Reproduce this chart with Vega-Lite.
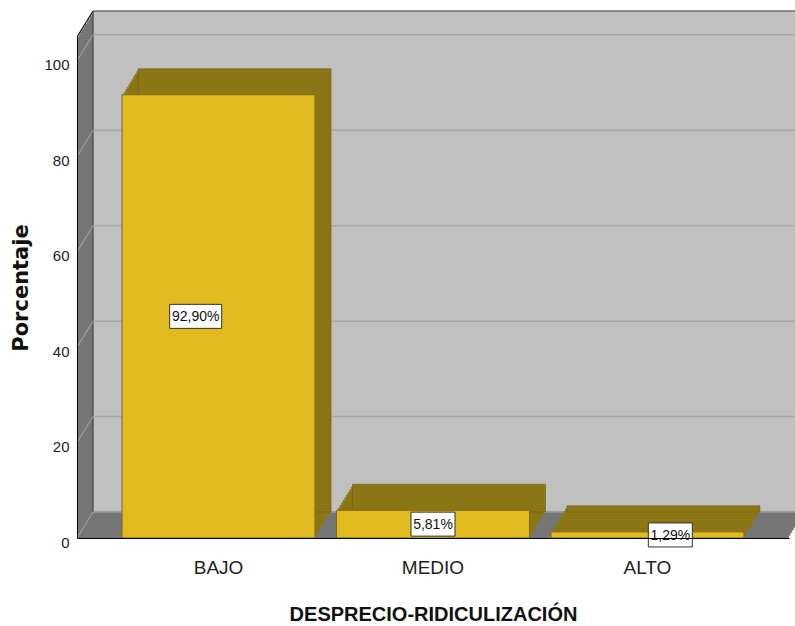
{
  "$schema": "https://vega.github.io/schema/vega-lite/v6.json",
  "width": 712,
  "height": 501,
  "autosize": "none",
  "padding": {"left": 77, "top": 37, "right": 6, "bottom": 88},
  "background": "white",
  "config": {"view": {"stroke": null}},
  "resolve": {"scale": {"x": "independent", "y": "independent"}},
  "layer": [
    {
      "data": {"values": [{"parte": "pared"}]},
      "encoding": {
        "x": {"datum": 0, "type": "quantitative", "scale": {"domain": [0, 1]}, "axis": null},
        "x2": {"datum": 1},
        "y": {"datum": 0, "type": "quantitative", "scale": {"domain": [0, 105], "nice": false}, "axis": null},
        "y2": {"datum": 105}
      },
      "layer": [
        {"mark": {"type": "rect", "fill": "#767676"}},
        {"mark": {"type": "rect", "fill": "#767676", "xOffset": 1.6, "x2Offset": 1.6, "yOffset": -2.6, "y2Offset": -2.6}},
        {"mark": {"type": "rect", "fill": "#767676", "xOffset": 3.2, "x2Offset": 3.2, "yOffset": -5.2, "y2Offset": -5.2}},
        {"mark": {"type": "rect", "fill": "#767676", "xOffset": 4.8, "x2Offset": 4.8, "yOffset": -7.8, "y2Offset": -7.8}},
        {"mark": {"type": "rect", "fill": "#767676", "xOffset": 6.4, "x2Offset": 6.4, "yOffset": -10.4, "y2Offset": -10.4}},
        {"mark": {"type": "rect", "fill": "#767676", "xOffset": 8, "x2Offset": 8, "yOffset": -13, "y2Offset": -13}},
        {"mark": {"type": "rect", "fill": "#767676", "xOffset": 9.6, "x2Offset": 9.6, "yOffset": -15.6, "y2Offset": -15.6}},
        {"mark": {"type": "rect", "fill": "#767676", "xOffset": 11.2, "x2Offset": 11.2, "yOffset": -18.2, "y2Offset": -18.2}},
        {"mark": {"type": "rect", "fill": "#767676", "xOffset": 12.8, "x2Offset": 12.8, "yOffset": -20.8, "y2Offset": -20.8}},
        {"mark": {"type": "rect", "fill": "#767676", "xOffset": 14.4, "x2Offset": 14.4, "yOffset": -23.4, "y2Offset": -23.4}},
        {"mark": {"type": "rect", "fill": "#c0c0c0", "stroke": "#333333", "strokeWidth": 1, "xOffset": 16, "x2Offset": 16, "yOffset": -26, "y2Offset": -26}}
      ]
    },
    {
      "data": {"values": [{"v": 0}, {"v": 20}, {"v": 40}, {"v": 60}, {"v": 80}, {"v": 100}]},
      "layer": [
        {
          "mark": {"type": "rule", "color": "#a6a6a6", "strokeWidth": 1.5, "xOffset": 16, "x2Offset": 16, "yOffset": -26},
          "encoding": {
            "x": {"datum": 0, "type": "quantitative", "scale": {"domain": [0, 1]}, "axis": null},
            "x2": {"datum": 1},
            "y": {"field": "v", "type": "quantitative", "scale": {"domain": [0, 105], "nice": false}, "axis": null}
          }
        },
        {
          "mark": {"type": "rule", "color": "#a8a8a8", "strokeWidth": 1, "x2Offset": 16, "y2Offset": -26},
          "encoding": {
            "x": {"datum": 0, "type": "quantitative", "scale": {"domain": [0, 1]}, "axis": null},
            "x2": {"datum": 0},
            "y": {"field": "v", "type": "quantitative", "scale": {"domain": [0, 105], "nice": false}, "axis": null},
            "y2": {"field": "v"}
          }
        },
        {
          "data": {"values": [{"v": 105}]},
          "mark": {"type": "rule", "color": "#111111", "strokeWidth": 1.2, "x2Offset": 16, "y2Offset": -26},
          "encoding": {
            "x": {"datum": 0, "type": "quantitative", "scale": {"domain": [0, 1]}, "axis": null},
            "x2": {"datum": 0},
            "y": {"field": "v", "type": "quantitative", "scale": {"domain": [0, 105], "nice": false}, "axis": null},
            "y2": {"field": "v"}
          }
        }
      ]
    },
    {
      "data": {"values": [
        {"categoria": "BAJO", "porcentaje": 92.90, "etiqueta": "92,90%"},
        {"categoria": "MEDIO", "porcentaje": 5.81, "etiqueta": "5,81%"},
        {"categoria": "ALTO", "porcentaje": 1.29, "etiqueta": "1,29%"}
      ]},
      "encoding": {
        "x": {
          "field": "categoria", "type": "nominal", "sort": ["BAJO", "MEDIO", "ALTO"],
          "scale": {"paddingInner": 0.1, "paddingOuter": 0.21},
          "axis": {
            "title": "DESPRECIO-RIDICULIZACIÓN", "zindex": 1, "grid": false,
            "domainColor": "#000000", "domainWidth": 1, "ticks": false, "tickSize": 0,
            "labelAngle": 0, "labelFont": "Liberation Sans",
            "labelFontSize": 19, "labelColor": "#222222", "labelBaseline": "alphabetic", "labelPadding": 35,
            "titleFont": "Liberation Sans", "titleFontSize": 20,
            "titleFontWeight": "bold", "titleColor": "#111111", "titleBaseline": "alphabetic",
            "titleX": 356, "titleY": 82, "titleAlign": "center"
          }
        },
        "y": {
          "field": "porcentaje", "type": "quantitative",
          "scale": {"domain": [0, 105], "nice": false},
          "axis": {
            "title": "Porcentaje", "values": [0, 20, 40, 60, 80, 100], "zindex": 1, "grid": false,
            "domainColor": "#000000", "domainWidth": 1, "ticks": false, "tickSize": 0,
            "labelPadding": 8, "labelFont": "Liberation Sans",
            "labelFontSize": 15, "labelColor": "#222222", "labelBaseline": "alphabetic", "labelOffset": 9,
            "labelFlush": false,
            "titleFont": "DejaVu Sans", "titleFontSize": 21, "titleFontWeight": "bold", "titleColor": "#111111",
            "titleAngle": 270, "titleX": -50, "titleY": 250.5, "titleAlign": "center", "titleBaseline": "alphabetic"
          }
        }
      },
      "layer": [
        {"mark": {"type": "bar", "fill": "#8b7615", "xOffset": 1.6, "yOffset": -2.6, "y2Offset": -2.6}},
        {"mark": {"type": "bar", "fill": "#8b7615", "xOffset": 3.2, "yOffset": -5.2, "y2Offset": -5.2}},
        {"mark": {"type": "bar", "fill": "#8b7615", "xOffset": 4.8, "yOffset": -7.8, "y2Offset": -7.8}},
        {"mark": {"type": "bar", "fill": "#8b7615", "xOffset": 6.4, "yOffset": -10.4, "y2Offset": -10.4}},
        {"mark": {"type": "bar", "fill": "#8b7615", "xOffset": 8, "yOffset": -13, "y2Offset": -13}},
        {"mark": {"type": "bar", "fill": "#8b7615", "xOffset": 9.6, "yOffset": -15.6, "y2Offset": -15.6}},
        {"mark": {"type": "bar", "fill": "#8b7615", "xOffset": 11.2, "yOffset": -18.2, "y2Offset": -18.2}},
        {"mark": {"type": "bar", "fill": "#8b7615", "xOffset": 12.8, "yOffset": -20.8, "y2Offset": -20.8}},
        {"mark": {"type": "bar", "fill": "#8b7615", "xOffset": 14.4, "yOffset": -23.4, "y2Offset": -23.4}},
        {"mark": {"type": "bar", "fill": "#8b7615", "stroke": "#6e5d10", "strokeWidth": 0.6, "xOffset": 16, "yOffset": -26, "y2Offset": -26}},
        {"mark": {"type": "bar", "fill": "#e0ba1e", "stroke": "#7d6a14", "strokeWidth": 1}}
      ]
    },
    {
      "data": {"values": [
        {"categoria": "BAJO", "porcentaje": 92.90, "etiqueta": "92,90%"},
        {"categoria": "MEDIO", "porcentaje": 5.81, "etiqueta": "5,81%"},
        {"categoria": "ALTO", "porcentaje": 1.29, "etiqueta": "1,29%"}
      ]},
      "encoding": {
        "x": {"field": "categoria", "type": "nominal", "sort": ["BAJO", "MEDIO", "ALTO"], "scale": {"paddingInner": 0.1, "paddingOuter": 0.21}, "axis": null},
        "y": {"field": "porcentaje", "type": "quantitative", "scale": {"domain": [0, 210], "nice": false}, "axis": null}
      },
      "layer": [
        {
          "mark": {"type": "point", "filled": true, "fill": "white", "stroke": "#333333", "strokeWidth": 1, "opacity": 1, "size": 4},
          "encoding": {
            "shape": {"condition": {"test": "datum.categoria === 'BAJO'", "value": "M-26,-12H26V12H-26Z"}, "value": "M-22,-12H22V12H-22Z"}
          }
        },
        {
          "mark": {"type": "text", "font": "Liberation Sans", "fontSize": 14, "color": "#111111", "baseline": "middle", "dy": 1},
          "encoding": {"text": {"field": "etiqueta"}}
        }
      ]
    }
  ]
}
